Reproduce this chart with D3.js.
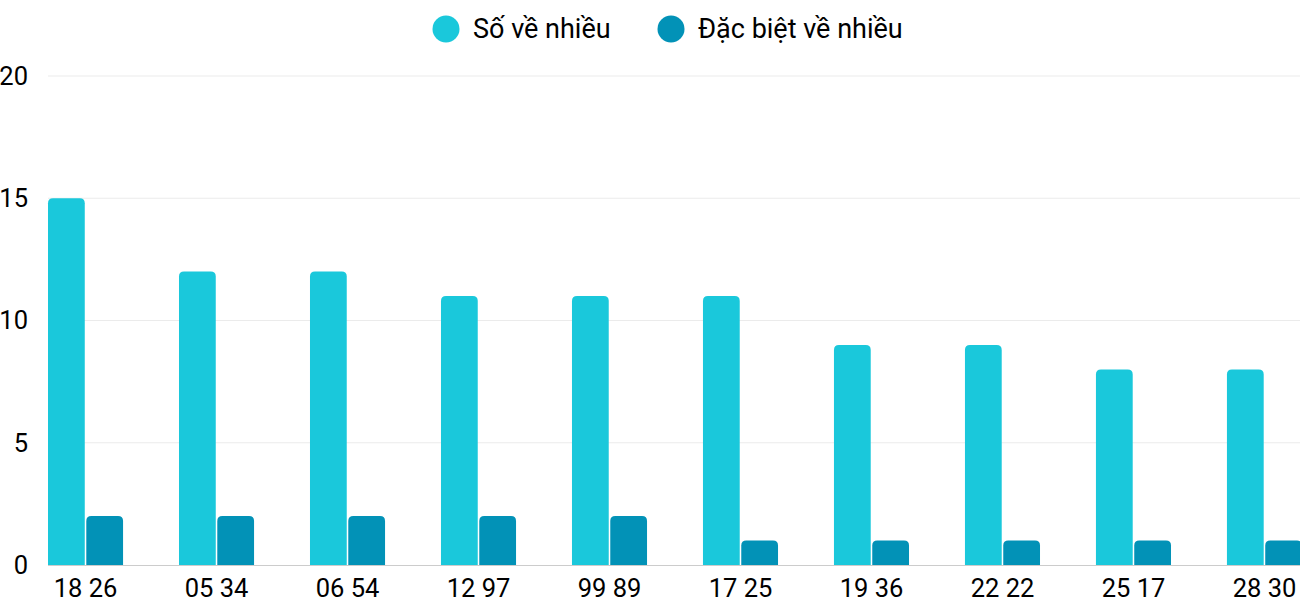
<!DOCTYPE html>
<html><head><meta charset="utf-8">
<script src="https://cdn.jsdelivr.net/npm/d3@7"></script>
<style>body{margin:0;background:#fff;font-family:Roboto,sans-serif;}</style>
</head><body>
<svg id="c" width="1300" height="600"></svg>
<script>
const categories = ["18 26","05 34","06 54","12 97","99 89","17 25","19 36","22 22","25 17","28 30"];
const seriesNames = ["Số về nhiều","Đặc biệt về nhiều"];
const soVeNhieu = [15,12,12,11,11,11,9,9,8,8];
const dacBietVeNhieu = [2,2,2,2,2,1,1,1,1,1];
const yTicks = [0,5,10,15,20];
const colors = ["#1ac8db","#0292b7"];

(function(){
const svg = d3.select("#c");
const mLeft = 48, mRight = 1302, mTop = 76, mBottom = 565;
const x = d3.scaleBand().domain(categories).range([mLeft,mRight]).paddingInner(0.427).paddingOuter(0);
const xs = d3.scaleBand().domain([0,1]).range([0,x.bandwidth()]).paddingInner(0.04);
const y = d3.scaleLinear().domain([0,20]).range([mBottom,mTop]);

svg.append("g").selectAll("line").data(yTicks.filter(d=>d>0)).join("line")
  .attr("x1",mLeft).attr("x2",1300).attr("y1",d=>y(d)).attr("y2",d=>y(d))
  .attr("stroke","#ebebeb").attr("stroke-width",1);
svg.append("g").selectAll("text").data(yTicks).join("text")
  .attr("x",28).attr("y",d=>y(d)).attr("dy","0.35em").attr("text-anchor","end")
  .attr("font-size",25.5).attr("fill","#000").text(d=>d);

function roundTop(x0,y0,w,h,r){
  r=Math.min(r,h,w/2);
  return `M${x0},${y0+h}V${y0+r}Q${x0},${y0} ${x0+r},${y0}H${x0+w-r}Q${x0+w},${y0} ${x0+w},${y0+r}V${y0+h}Z`;
}
const series=[soVeNhieu,dacBietVeNhieu];
series.forEach((vals,si)=>{
  svg.append("g").selectAll("path").data(vals).join("path")
    .attr("fill",colors[si])
    .attr("d",(d,i)=>roundTop(x(categories[i])+xs(si), y(d), xs.bandwidth(), y(0)-y(d), 5));
});
svg.append("line").attr("x1",mLeft).attr("x2",1300).attr("y1",mBottom+0.5).attr("y2",mBottom+0.5)
  .attr("stroke","#cccccc").attr("stroke-width",1);
svg.append("g").selectAll("text").data(categories).join("text")
  .attr("x",d=>x(d)+x.bandwidth()/2).attr("y",597).attr("text-anchor","middle")
  .attr("font-size",25.5).attr("fill","#000").text(d=>d);

const legendX=[446,671];
seriesNames.forEach((n,i)=>{
  svg.append("circle").attr("cx",legendX[i]).attr("cy",29).attr("r",13.5).attr("fill",colors[i]);
  svg.append("text").attr("x",legendX[i]+27).attr("y",38).attr("font-size",27).attr("fill","#000").text(n);
});
})();
</script>
</body></html>
